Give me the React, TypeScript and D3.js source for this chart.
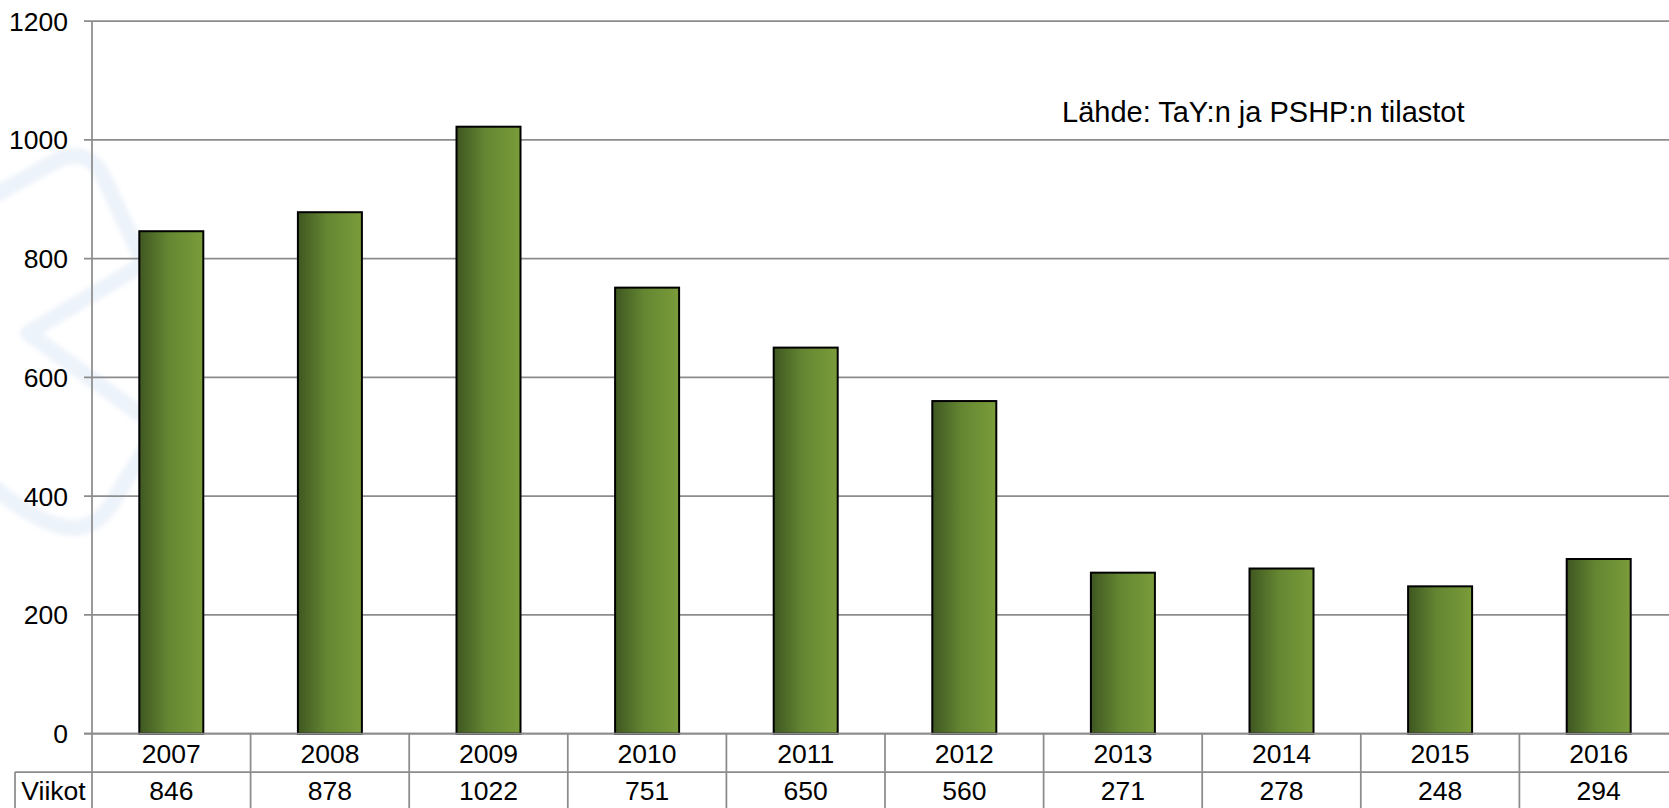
import * as d3 from "d3";
import React from "react";

const years = ["2007", "2008", "2009", "2010", "2011", "2012", "2013", "2014", "2015", "2016"];
const viikot = [846, 878, 1022, 751, 650, 560, 271, 278, 248, 294];
const yTicks = [0, 200, 400, 600, 800, 1000, 1200];
const rowLabel = "Viikot";
const sourceText = "Lähde: TaY:n ja PSHP:n tilastot";

const W = 1669;
const H = 808;
const margin = { top: 21, left: 92, bottom: 74 };
const plotRight = 1678;
const font = "'Liberation Sans', Arial, sans-serif";
const gridColor = "#8c8c8c";

const App: React.FC = () => {
  const y0 = H - margin.bottom - 0.4; // ~734
  const xScale = d3.scaleBand<string>().domain(years).range([margin.left, plotRight]).paddingInner(0).paddingOuter(0);
  const yScale = d3.scaleLinear().domain([0, 1200]).range([y0, margin.top]);
  const step = xScale.step();
  const barW = 64;
  const row1 = 772;

  return (
    <div style={{ position: "absolute", left: 0, top: 0 }}>
      <svg width={W} height={H} style={{ display: "block", background: "#fff" }}>
        <defs>
          <linearGradient id="barGrad" x1="0" x2="1" y1="0" y2="0">
            <stop offset="0" stopColor="#3f5721" />
            <stop offset="0.45" stopColor="#648632" />
            <stop offset="1" stopColor="#7a9c3a" />
          </linearGradient>
          <filter id="soft" x="-20%" y="-20%" width="140%" height="140%">
            <feGaussianBlur stdDeviation="2.5" />
          </filter>
        </defs>

        {/* faint watermark */}
        <g fill="none" stroke="#edf3fa" strokeWidth={16} strokeLinecap="round" strokeLinejoin="round" filter="url(#soft)">
          <path d="M -5,195 L 58,160 Q 86,147 102,174 L 146,268" />
          <path d="M 140,266 L 28,333 L 140,414" />
          <path d="M -5,488 Q 38,524 70,528 Q 96,529 112,503 L 146,448" />
        </g>

        {/* gridlines */}
        {yTicks.map((t) => (
          <line key={t} x1={margin.left - 8} x2={plotRight} y1={yScale(t)} y2={yScale(t)} stroke={gridColor} strokeWidth={1.75} />
        ))}
        <line x1={margin.left} x2={margin.left} y1={margin.top} y2={H} stroke={gridColor} strokeWidth={1.75} />

        {/* tick labels */}
        {yTicks.map((t) => (
          <text key={t} x={68} y={yScale(t) + 9.5} textAnchor="end" fontFamily={font} fontSize={26.5} fill="#000">
            {t}
          </text>
        ))}

        {/* bars */}
        {years.map((yr, i) => {
          const cx = xScale(yr)! + step / 2;
          const top = yScale(viikot[i]);
          return (
            <rect
              key={yr}
              x={cx - barW / 2}
              y={top}
              width={barW}
              height={y0 - top}
              fill="url(#barGrad)"
              stroke="#000"
              strokeWidth={2}
            />
          );
        })}

        <line x1={margin.left - 8} x2={plotRight} y1={y0} y2={y0} stroke={gridColor} strokeWidth={1.75} />

        {/* data table */}
        <line x1={15} x2={plotRight} y1={row1} y2={row1} stroke={gridColor} strokeWidth={1.75} />
        <line x1={15} x2={15} y1={row1} y2={H} stroke={gridColor} strokeWidth={1.75} />
        {years.map((yr) => (
          <line key={yr} x1={xScale(yr)! + step} x2={xScale(yr)! + step} y1={y0} y2={H} stroke={gridColor} strokeWidth={1.75} />
        ))}
        {years.map((yr, i) => {
          const cx = xScale(yr)! + step / 2;
          return (
            <g key={yr} fontFamily={font} fontSize={26.5} fill="#000" textAnchor="middle">
              <text x={cx} y={763}>{yr}</text>
              <text x={cx} y={800}>{viikot[i]}</text>
            </g>
          );
        })}
        <text x={53.5} y={800} textAnchor="middle" fontFamily={font} fontSize={26.5} fill="#000">
          {rowLabel}
        </text>

        <text x={1062} y={122} fontFamily={font} fontSize={29} fill="#000">
          {sourceText}
        </text>
      </svg>
    </div>
  );
};

export default App;
